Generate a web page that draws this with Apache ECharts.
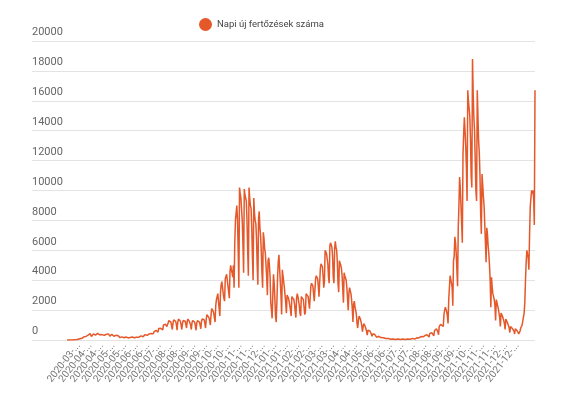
<!DOCTYPE html>
<html>
<head>
<meta charset="utf-8">
<script src="https://cdn.jsdelivr.net/npm/echarts@6/dist/echarts.min.js"></script>
<style>html,body{margin:0;padding:0;background:#fff;}#c{width:575px;height:393px;}</style>
</head>
<body>
<div id="c"></div>
<script>
const seriesName = 'Napi új fertőzések száma';
const startDate = '2020-03-01';
const yTicks = [0, 2000, 4000, 6000, 8000, 10000, 12000, 14000, 16000, 18000, 20000];
// daily new cases, one row per week (starting 2020-03-01)
const dailyCases = [
0,0,0,1,2,3,4,
3,2,6,9,14,20,35,
40,30,60,45,57,80,90,
130,110,150,180,220,260,250,
240,200,290,320,350,390,430,
380,240,310,360,410,450,420,
330,250,370,440,380,420,350,
300,280,360,430,380,390,320,
270,250,380,320,350,410,290,
260,300,340,380,290,330,250,
230,190,310,270,250,300,220,
200,160,230,240,210,190,170,
150,130,180,200,170,160,140,
130,120,170,190,160,200,150,
140,150,220,230,190,210,170,
180,190,250,320,280,260,240,
220,240,300,360,330,340,310,
280,320,410,450,420,440,400,
380,410,550,620,580,650,560,
540,520,770,800,750,780,700,
690,680,1000,1100,1000,1050,950,
900,800,1150,1300,1250,1350,1200,
1100,700,1100,1350,1300,1350,1250,
1050,650,1150,1400,1350,1400,1250,
1000,700,1100,1300,1400,1350,1250,
1050,800,1250,1400,1350,1250,1150,
1000,700,1150,1300,1400,1350,1200,
950,650,1100,1300,1350,1250,1200,
1000,750,1250,1400,1450,1500,1350,
1100,800,1400,1700,1650,1750,1500,
1300,1000,1650,2100,2000,1950,1800,
1500,1200,2300,2700,2900,3100,2600,
2100,1600,3200,3700,3900,3800,3100,
2800,2600,4100,4000,4400,4300,3600,
3500,2800,4600,5000,4700,4500,4200,
5000,3500,6500,8000,8500,9000,8100,
6000,3500,10200,9800,9500,9400,8000,
6500,4500,10100,9700,9800,9300,8000,
6000,4300,10200,9500,9000,8800,7500,
5500,4000,9500,8500,8000,7800,6800,
5000,3700,8100,8600,7500,7000,6000,
4500,3500,7200,6800,6100,5800,5000,
4200,3000,5300,5500,5000,4200,2500,
2000,1450,3000,4400,3800,2800,1600,
1200,2500,4200,5200,5700,4800,3900,
3000,1700,4700,4300,3900,3500,3000,
2500,1800,3000,3000,2800,2600,2300,
2000,1600,2900,3000,2900,2700,2400,
1900,1500,2800,3100,2900,2800,2300,
1800,1600,2900,3000,2800,2700,2200,
1700,1850,3100,3000,3200,2900,2500,
2100,2000,3600,3800,3900,3600,3100,
2600,2700,4100,4300,4200,4100,3600,
2900,2800,4800,5100,5000,4900,4300,
3500,3900,6000,6100,5800,5900,5100,
4200,3800,6300,6500,6400,6200,5600,
4200,3800,6100,6600,6200,6000,5200,
3800,3200,5300,5300,5000,4800,4300,
3400,2500,4500,4300,4200,4000,3500,
2800,2000,3100,3500,3300,3100,2700,
2100,1200,2400,2600,2200,2000,1700,
1100,800,1300,1600,1500,1400,1200,
950,550,900,1100,1000,900,800,
600,330,650,700,650,600,500,
400,250,400,450,400,380,320,
260,180,300,280,250,230,200,
160,120,180,170,150,140,120,
100,70,110,100,95,90,80,
70,50,80,75,70,65,60,
55,40,70,65,60,60,55,
50,40,65,70,60,65,60,
55,40,75,80,70,75,70,
60,45,85,100,95,110,100,
90,60,130,140,150,170,160,
140,90,200,230,220,240,210,
190,140,300,330,320,350,310,
280,200,420,480,470,500,430,
380,280,620,700,680,750,640,
540,350,900,1000,1050,1150,1000,
1000,900,1700,2000,2200,2100,1900,
1600,1100,2700,3500,4300,4400,3800,
3500,2300,5300,5600,6900,6500,5800,
5700,3600,7500,9000,10900,10200,9000,
9000,6500,12400,13800,14900,14000,13000,
11500,9300,16700,16000,15500,15000,13500,
11000,10200,18800,16500,14900,14000,12000,
10000,9300,16700,15000,13300,12500,11000,
8500,7100,11100,10400,9600,9000,7800,
6500,5200,7500,7100,6300,5800,5000,
4000,2200,4200,3500,3100,3000,2700,
2300,1300,2700,2600,2300,2100,1800,
1500,900,1800,1700,1600,1500,1300,
1100,700,1400,1300,1200,1100,950,
800,500,900,850,800,750,650,
600,400,750,700,650,600,500,
400,350,600,800,900,1000,900,
900,1800,2500,4000,5200,6000,6100,
5500,4700,7000,8900,9500,10000,9800,
10000,9500,7700,16700
];

// category dates, one per value
const dates = [];
(function(){
  const d0 = new Date(startDate + 'T00:00:00Z');
  for (let i = 0; i < dailyCases.length; i++) {
    const d = new Date(d0.getTime() + i * 86400000);
    dates.push(d.toISOString().slice(0, 10));
  }
})();

const chart = echarts.init(document.getElementById('c'), null, {renderer: 'canvas'});
const font = 'Roboto, "Noto Sans", sans-serif';
const yMin = yTicks[0], yMax = yTicks[yTicks.length - 1], yStep = yTicks[1] - yTicks[0];
chart.setOption({
  animation: false,
  backgroundColor: '#fff',
  legend: {
    top: 13, left: 194,
    icon: 'circle', itemWidth: 13, itemHeight: 13, itemGap: 6,
    textStyle: {fontFamily: font, fontSize: 9.5, color: '#444'},
    data: [seriesName]
  },
  grid: [
    {left: 32, right: 40, top: 41, bottom: 53},
    {left: 67, right: 40, top: 41, bottom: 53}
  ],
  xAxis: [
    {gridIndex: 0, type: 'value', show: false, min: 0, max: 1},
    {gridIndex: 1, type: 'category', data: dates, boundaryGap: false,
     axisLine: {show: false}, axisTick: {show: false},
     axisLabel: {interval: 16, rotate: 52, fontFamily: font, fontSize: 10, color: '#777', margin: 4,
       formatter: v => v.slice(0, 8) + '...'}}
  ],
  yAxis: [
    {gridIndex: 0, type: 'value', min: yMin, max: yMax, interval: yStep,
     axisLine: {show: false}, axisTick: {show: false},
     axisLabel: {inside: true, verticalAlign: 'bottom', margin: 0, padding: [0, 0, 3, 0],
       fontFamily: font, fontSize: 11, color: '#666', formatter: v => String(v)},
     splitLine: {lineStyle: {color: '#e3e3e3', width: 1}}},
    {gridIndex: 1, type: 'value', min: yMin, max: yMax, interval: yStep, show: false,
     splitLine: {show: false}}
  ],
  series: [
    {type: 'line', xAxisIndex: 0, yAxisIndex: 0, data: [], silent: true},
    {name: seriesName, type: 'line', xAxisIndex: 1, yAxisIndex: 1, data: dailyCases,
     showSymbol: false, symbol: 'circle', color: '#e5582a',
     lineStyle: {width: 1.5, color: '#e5582a'}}
  ]
});
</script>
</body>
</html>
